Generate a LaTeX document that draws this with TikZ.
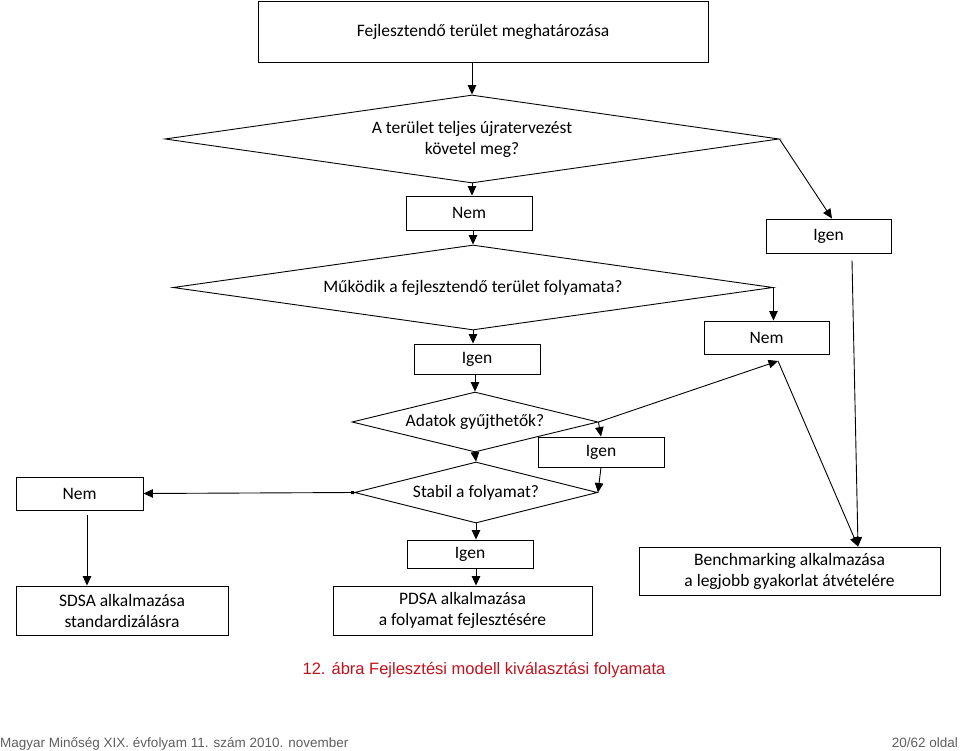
\documentclass[tikz,border=0pt]{standalone}
\usepackage{fontspec}
\setmainfont{Carlito}
\newfontfamily\arialf{Liberation Sans}
\usetikzlibrary{shapes.geometric,arrows.meta}
\definecolor{capred}{RGB}{190,20,30}
\definecolor{footgray}{RGB}{95,95,95}
\begin{document}
\begin{tikzpicture}[x=1pt,y=-1pt,
  every node/.style={font=\fontsize{17.5}{21}\selectfont},
  box/.style={draw, line width=0.9pt, inner sep=0pt, align=center},
  dia/.style={draw, diamond, line width=0.9pt, inner sep=0pt, align=center},
  arr/.style={line width=0.9pt, -{Triangle[length=9.5pt,width=8.5pt]}},
  ln/.style={line width=0.9pt}]
\path[fill=white,use as bounding box] (0,0) rectangle (960,751);

% boxes
\node[box, minimum width=450pt, minimum height=61pt] (title) at (483,31.5) {Fejlesztendő terület meghatározása};
\node[box, minimum width=126pt, minimum height=34pt] (nem1) at (469,213) {Nem};
\node[box, minimum width=125pt, minimum height=34pt] (igenR) at (828.5,236) {Igen};
\node[box, minimum width=125pt, minimum height=33pt] (nem2) at (766.5,337.5) {Nem};
\node[box, minimum width=126pt, minimum height=30pt] (igen1) at (477,359) {Igen};
\node[box, minimum width=126pt, minimum height=30pt] (igen2) at (601,452) {Igen};
\node[box, minimum width=127pt, minimum height=33pt] (nem3) at (79.5,493.5) {Nem};
\node[box, minimum width=212pt, minimum height=49pt] (sdsa) at (122,610.5) {SDSA alkalmazása\\standardizálásra};
\node[box, minimum width=126pt, minimum height=28pt] (igen3) at (470,554) {Igen};
\node[box, minimum width=259pt, minimum height=49pt] (pdsa) at (462.5,610.5) {PDSA alkalmazása\\a folyamat fejlesztésére};
\node[box, minimum width=301pt, minimum height=48pt] (bench) at (789.5,571) {Benchmarking alkalmazása\\a legjobb gyakorlat átvételére};

% diamonds
\node[dia, shape aspect=6.98, minimum width=614pt, minimum height=88pt] (d1) at (472,139) {A terület teljes újratervezést\\követel meg?};
\node[dia, shape aspect=7.06, minimum width=600pt, minimum height=85pt] (d2) at (473,287.5) {Működik a fejlesztendő terület folyamata?};
\node[dia, shape aspect=4.1, minimum width=246pt, minimum height=60pt] (d3) at (475,422) {Adatok gyűjthetők?};
\node[dia, shape aspect=3.98, minimum width=243pt, minimum height=61pt] (d4) at (476,492.5) {Stabil a folyamat?};

\coordinate (n2in) at (778,361);

% connectors
\draw[arr] (title.south -| d1.north) -- (d1.north);
\draw[arr] (d1.south) -- (d1.south |- nem1.north);
\draw[arr] (d1.east) -- ([xshift=3.5pt]igenR.north);
\draw[arr] (nem1.south -| d2.north) -- (d2.north);
\draw[arr] (d2.east) -- (d2.east |- nem2.north);
\draw[arr] (d2.south) -- (d2.south |- igen1.north);
\draw[arr] (igen1.south -| d3.north) -- (d3.north);
\draw[arr] (d3.east) -- (igen2.north);
\draw[arr] (d3.east) -- (n2in);
\draw[arr] (d3.south) -- (d4.north);
\draw[arr] (igen2.south) -- (d4.east);
\draw[line width=0.9pt, {Square[length=3pt,width=3pt]}-{Triangle[length=9.5pt,width=8.5pt]}] (d4.west) -- (nem3.east);
\draw[arr] ([shift={(7.5,5)}]nem3.south) -- ([xshift=7.5pt]nem3.south |- sdsa.north);
\draw[arr] (d4.south) -- (d4.south |- igen3.north);
\draw[arr] (igen3.south -| d4.south) -- (pdsa.north -| d4.south);
\draw[arr] ([shift={(23.5,7)}]igenR.south) -- ([xshift=68.5pt]bench.north);
\draw[arr] (n2in) -- ([xshift=68.5pt]bench.north);

% caption and footer
\node[font=\arialf\fontsize{16.5}{19}\selectfont, text=capred, anchor=base] (cap) at (484,674) {12. ábra Fejlesztési modell kiválasztási folyamata};
\node[font=\arialf\fontsize{13.5}{16}\selectfont, text=footgray, anchor=base west, inner sep=0pt] (foot) at (0,747) {Magyar Minőség XIX. évfolyam 11. szám 2010. november};
\node[font=\arialf\fontsize{13.5}{16}\selectfont, text=footgray, anchor=base east, inner sep=0pt] (page) at (958,747) {20/62 oldal};
\end{tikzpicture}
\end{document}
